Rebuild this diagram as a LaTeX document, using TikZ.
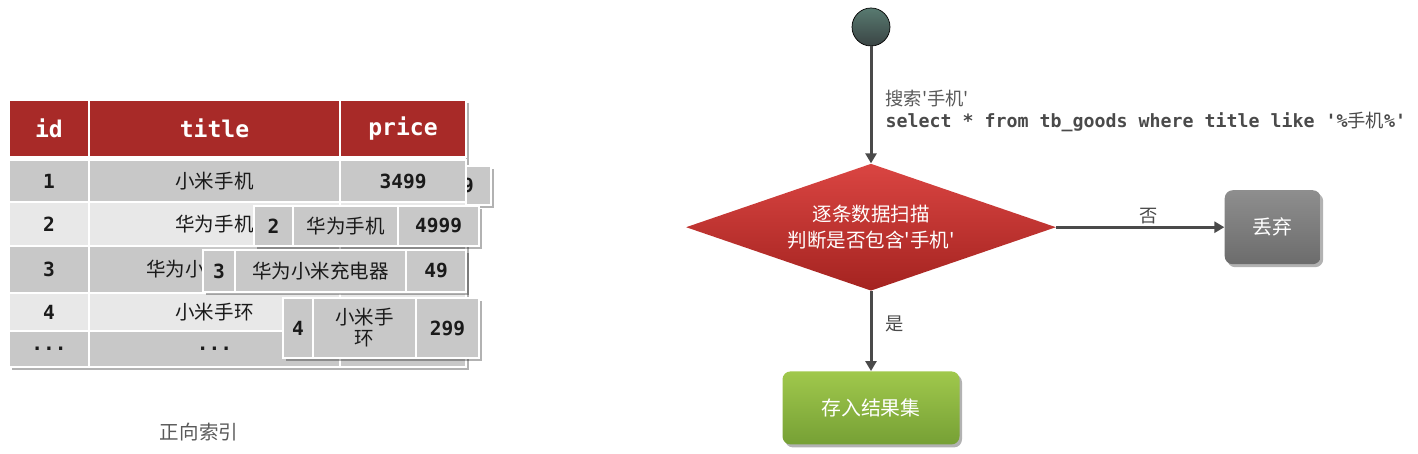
\documentclass[tikz,border=0pt]{standalone}
\usepackage{fontspec}
\setmonofont{DejaVu Sans Mono}
\newfontfamily\cjk{Noto Sans CJK SC}[Ligatures=TeXOff]
\usepackage{xcolor}
\definecolor{cHead}{HTML}{A82A28}
\definecolor{cDark}{HTML}{C8C8C8}
\definecolor{cLight}{HTML}{E8E8E8}
\definecolor{cText}{HTML}{1A1A1A}
\definecolor{cGray}{HTML}{595959}
\definecolor{cLine}{HTML}{4A4A4A}
\definecolor{cStartTop}{HTML}{587A70}
\definecolor{cStartBot}{HTML}{3A4444}
\definecolor{cScanTop}{HTML}{DA4542}
\definecolor{cScanBot}{HTML}{A42320}
\definecolor{cDropTop}{HTML}{8E8E8E}
\definecolor{cDropBot}{HTML}{6C6C6C}
\definecolor{cKeepTop}{HTML}{A0C84C}
\definecolor{cKeepBot}{HTML}{76A035}
\usepackage{tikz}
\usetikzlibrary{positioning,arrows.meta,fit,shapes.geometric,shadows,backgrounds}
\tikzset{
  soft-shadow/.style={drop shadow={shadow xshift=0.5mm,shadow yshift=-0.6mm,
    opacity=0.3,fill=black}},
  cell/.style={draw=white,line width=0.4mm,inner sep=1pt,outer sep=0pt,
    align=center,text=cText,font=\cjk\fontsize{11.1}{12}\selectfont},
  cell-head/.style={cell,fill=cHead,text=white,minimum height=11.4mm,
    font=\ttfamily\bfseries\fontsize{13.1}{15}\selectfont},
  cell-dark/.style={cell,fill=cDark},
  cell-light/.style={cell,fill=cLight},
  num/.style={font=\ttfamily\bfseries\fontsize{11.1}{13}\selectfont},
  w-id/.style={minimum width=16mm},
  w-title/.style={minimum width=50.2mm},
  w-price/.style={minimum width=25.2mm},
  node-start/.style={circle,draw=black,thin,minimum size=7.6mm,
    top color=cStartTop,bottom color=cStartBot},
  node-scan/.style={diamond,aspect=2.9,inner sep=0pt,minimum width=74mm,
    minimum height=25.4mm,top color=cScanTop,bottom color=cScanBot,
    text=white,align=center,font=\cjk\fontsize{11.1}{14.8}\selectfont},
  node-box/.style={rounded corners=1.6mm,text=white,soft-shadow,
    font=\cjk\fontsize{11.3}{13}\selectfont},
  node-drop/.style={node-box,top color=cDropTop,bottom color=cDropBot,
    minimum width=19.2mm,minimum height=14.8mm},
  node-keep/.style={node-box,top color=cKeepTop,bottom color=cKeepBot,
    minimum width=35.4mm,minimum height=14.6mm},
  label-flow/.style={inner sep=0pt,text=cLine,font=\cjk\fontsize{10.4}{12.5}\selectfont},
  arrow/.style={-{Triangle[length=2mm,width=2.2mm]},line width=0.6mm,draw=cLine},
}

\begin{document}
\begin{tikzpicture}[x=0.2mm,y=-0.2mm,node distance=0mm]
  \useasboundingbox (0,0) rectangle (1418,454);

  % copy of row 1, mostly behind the table
  \node[cell-dark,num,soft-shadow,minimum width=16.2mm,minimum height=7.8mm,
    anchor=north west] (c1-price) at (410,166) {3499};

  % table
  \node[cell-head,w-id,anchor=north west] (h-id)    at (9,100) {id};
  \node[cell-head,w-title,right=of h-id]  (h-title) {title};
  \node[cell-head,w-price,right=of h-title] (h-price) {price};

  \node[cell-dark,w-id,num,minimum height=8.4mm,below=0.6mm of h-id] (r1-id) {1};
  \node[cell-dark,w-title,minimum height=8.4mm,right=of r1-id]       (r1-title) {小米手机};
  \node[cell-dark,w-price,num,minimum height=8.4mm,right=of r1-title] (r1-price) {3499};

  \node[cell-light,w-id,num,minimum height=8.8mm,below=of r1-id]      (r2-id) {2};
  \node[cell-light,w-title,minimum height=8.8mm,right=of r2-id]       (r2-title) {华为手机};
  \node[cell-light,w-price,num,minimum height=8.8mm,right=of r2-title] (r2-price) {4999};

  \node[cell-dark,w-id,num,minimum height=9.4mm,below=of r2-id]       (r3-id) {3};
  \node[cell-dark,w-title,minimum height=9.4mm,right=of r3-id]        (r3-title) {华为小米充电器};
  \node[cell-dark,w-price,num,minimum height=9.4mm,right=of r3-title] (r3-price) {49};

  \node[cell-light,w-id,num,minimum height=7.6mm,below=of r3-id]      (r4-id) {4};
  \node[cell-light,w-title,minimum height=7.6mm,right=of r4-id]       (r4-title) {小米手环};
  \node[cell-light,w-price,num,minimum height=7.6mm,right=of r4-title] (r4-price) {299};

  \node[cell-dark,w-id,num,minimum height=7.2mm,below=of r4-id]       (r5-id) {...};
  \node[cell-dark,w-title,num,minimum height=7.2mm,right=of r5-id]    (r5-title) {...};
  \node[cell-dark,w-price,num,minimum height=7.2mm,right=of r5-title] (r5-price) {...};

  \begin{scope}[on background layer]
    \node[fill=white,soft-shadow,inner sep=0pt,fit=(h-id.north west)(r5-price.south east)] (tbl) {};
  \end{scope}

  % rows lifted out of the table
  \node[cell-dark,num,soft-shadow,minimum width=7.8mm,minimum height=8mm,
    anchor=north west] (c2-id) at (254,206) {2};
  \node[cell-dark,soft-shadow,minimum width=21mm,minimum height=8mm,right=of c2-id] (c2-title) {华为手机};
  \node[cell-dark,num,soft-shadow,minimum width=16.2mm,minimum height=8mm,right=of c2-title] (c2-price) {4999};

  \node[cell-dark,num,soft-shadow,minimum width=6.4mm,minimum height=8.4mm,
    anchor=north west] (c3-id) at (203,250) {3};
  \node[cell-dark,soft-shadow,minimum width=34.2mm,minimum height=8.4mm,right=of c3-id] (c3-title) {华为小米充电器};
  \node[cell-dark,num,soft-shadow,minimum width=12mm,minimum height=8.4mm,right=of c3-title] (c3-price) {49};

  \node[cell-dark,num,soft-shadow,minimum width=6mm,minimum height=12mm,
    anchor=north west] (c4-id) at (283,298) {4};
  \node[cell-dark,soft-shadow,minimum width=20.6mm,minimum height=12mm,right=of c4-id] (c4-title) {小米手\\环};
  \node[cell-dark,num,soft-shadow,minimum width=12.6mm,minimum height=12mm,right=of c4-title] (c4-price) {299};

  \node[text=cGray,font=\cjk\fontsize{11.1}{13}\selectfont] (caption) at (199,432) {正向索引};

  % flow
  \node[node-start] (start) at (871,27) {};
  \node[node-scan,below=23.4mm of start] (scan) {逐条数据扫描\\判断是否包含'手机'};
  \node[node-drop,right=33.6mm of scan]  (drop) {丢弃};
  \node[node-keep,below=16mm of scan]    (keep) {存入结果集};

  \draw[arrow] (start) -- node[label-flow,pos=0.556,right,xshift=2.6mm,align=left]
    {{\color{cGray}搜索'手机'}\\
     {\ttfamily\bfseries select * from tb\_goods where title like '\%}手机{\ttfamily\bfseries \%'}} (scan);
  \draw[arrow] (scan) -- node[label-flow,pos=0.55,above=1pt] {否} (drop);
  \draw[arrow] (scan) -- node[label-flow,pos=0.41,right,xshift=2.6mm] {是} (keep);
\end{tikzpicture}
\end{document}
